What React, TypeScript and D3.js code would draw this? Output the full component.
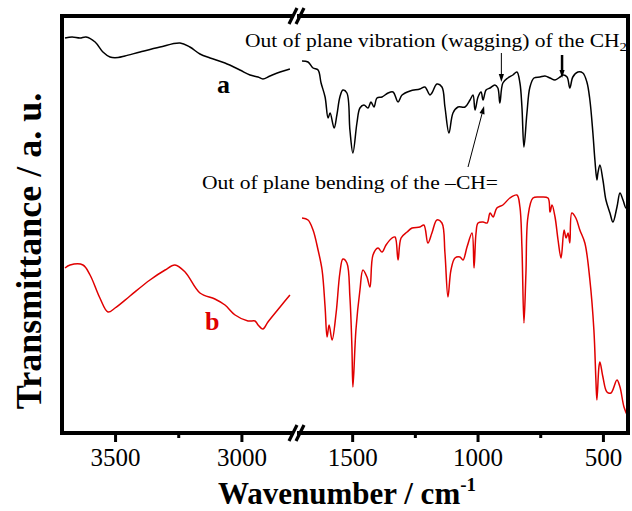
import React, { useEffect, useRef } from 'react';
import * as d3 from 'd3';

// wavenumber (cm-1), transmittance (a.u.)
const aLeft: [number, number][] = [
  [3698, 39.5], [3670, 39.6], [3639, 39.5], [3615, 39.6], [3579, 39.1], [3548, 38.1],
  [3520, 37.6], [3488, 37.55], [3461, 37.7], [3401, 38.1], [3322, 38.6], [3243, 39.0],
  [3204, 38.6], [3164, 37.9], [3124, 37.5], [3065, 37.0], [3006, 36.3], [2966, 35.8],
  [2934, 35.6], [2915, 35.4], [2887, 35.7], [2847, 36.1], [2808, 36.4]
];
const aRight: [number, number][] = [
  [1700, 37.2], [1676, 37.1], [1656, 36.5], [1636, 36.3], [1624, 35.0], [1608, 33.6],
  [1596, 31.5], [1588, 32.0], [1572, 30.5], [1561, 31.8], [1549, 33.6], [1537, 34.3],
  [1521, 34.0], [1509, 30.3], [1497, 28.0], [1481, 31.0], [1469, 32.5], [1453, 32.8],
  [1437, 32.5], [1425, 33.1], [1413, 32.6], [1401, 33.5], [1381, 33.6], [1357, 34.0],
  [1337, 34.1], [1317, 33.1], [1301, 33.8], [1269, 34.2], [1230, 34.4], [1210, 34.6],
  [1190, 33.8], [1182, 34.0], [1162, 34.9], [1142, 34.6], [1130, 32.6], [1114, 30.0],
  [1098, 32.0], [1078, 32.6], [1050, 32.6], [1030, 33.3], [1018, 33.8], [1010, 32.3],
  [998, 33.6], [986, 34.1], [978, 33.3], [966, 34.3], [950, 34.5], [931, 34.8],
  [919, 34.5], [911, 33.0], [899, 35.0], [879, 35.5], [859, 35.8], [843, 36.1],
  [831, 35.0], [823, 32.6], [815, 28.6], [803, 32.0], [791, 34.6], [775, 35.5],
  [751, 35.6], [731, 35.7], [711, 35.5], [691, 35.3], [671, 35.6], [659, 35.8],
  [643, 35.6], [632, 34.5], [620, 35.6], [600, 36.1], [580, 36.0], [564, 35.1],
  [552, 33.3], [540, 30.0], [532, 27.3], [524, 25.3], [520, 26.0], [512, 26.8],
  [500, 25.3], [488, 23.3], [472, 22.0], [460, 21.1], [444, 22.6], [432, 24.0],
  [420, 23.3], [408, 22.5], [400, 23.0]
];
const bLeft: [number, number][] = [
  [3698, 16.5], [3678, 16.8], [3627, 16.8], [3599, 15.8], [3560, 13.5], [3528, 12.1],
  [3500, 12.5], [3441, 13.7], [3362, 15.3], [3302, 16.3], [3263, 16.8], [3223, 16.1],
  [3164, 14.0], [3105, 13.4], [3065, 12.8], [3025, 11.8], [2974, 11.2], [2946, 11.2],
  [2934, 10.8], [2915, 10.4], [2895, 11.1], [2847, 12.6], [2808, 13.8]
];
const bRight: [number, number][] = [
  [1700, 21.5], [1676, 21.3], [1656, 20.3], [1636, 18.3], [1620, 16.3], [1608, 12.6],
  [1600, 9.6], [1592, 10.8], [1580, 9.3], [1564, 12.0], [1549, 16.0], [1537, 17.4],
  [1521, 17.0], [1509, 13.6], [1501, 8.6], [1497, 4.6], [1485, 10.3], [1469, 14.3],
  [1457, 16.3], [1441, 15.6], [1429, 14.6], [1417, 17.8], [1397, 18.5], [1381, 18.1],
  [1365, 18.8], [1341, 19.5], [1329, 19.6], [1317, 17.3], [1305, 19.5], [1281, 20.1],
  [1261, 20.5], [1230, 20.6], [1214, 20.8], [1198, 19.0], [1182, 20.0], [1162, 21.3],
  [1142, 21.0], [1130, 18.0], [1118, 13.6], [1106, 16.3], [1090, 17.5], [1070, 17.6],
  [1058, 17.3], [1042, 18.6], [1022, 20.0], [1014, 16.5], [1006, 20.0], [998, 21.0],
  [978, 21.1], [962, 21.0], [950, 22.0], [938, 21.6], [923, 22.5], [899, 22.8],
  [871, 23.5], [843, 23.8], [831, 22.6], [823, 18.6], [815, 11.0], [807, 16.0],
  [799, 21.6], [779, 23.5], [751, 23.6], [719, 23.5], [711, 22.1], [703, 22.8],
  [691, 21.6], [679, 19.3], [667, 17.5], [655, 20.3], [647, 19.5], [639, 20.0],
  [632, 19.0], [624, 22.0], [608, 21.5], [592, 20.3], [572, 19.0], [552, 15.3],
  [536, 10.3], [528, 5.3], [524, 3.3], [516, 6.6], [512, 7.1], [500, 5.6],
  [484, 4.1], [468, 4.0], [444, 5.3], [432, 4.6], [416, 2.6], [400, 1.6]
];

const ticksLeft = [3500, 3000];
const minorLeft = [3250];
const ticksRight = [1500, 1000, 500];
const minorRight = [1250, 750];

const serif = '"Times New Roman", "Liberation Serif", serif';

export default function App() {
  const ref = useRef<SVGSVGElement>(null);

  useEffect(() => {
    const svg = d3.select(ref.current);
    svg.selectAll('*').remove();

    const W = 632, H = 511;
    const margin = { top: 16, right: 4, bottom: 78, left: 62 };
    const x0 = margin.left, x1 = W - margin.right;
    const y0 = margin.top, y1 = H - margin.bottom;
    const xBreak = 297;

    const xl = d3.scaleLinear().domain([3710, 2780]).range([x0, xBreak]);
    const xr = d3.scaleLinear().domain([1720, 400]).range([xBreak, x1]);
    const y = d3.scaleLinear().domain([0, 41.7]).range([y1, y0]);

    const lineL = d3.line<[number, number]>().x(d => xl(d[0])).y(d => y(d[1]))
      .curve(d3.curveCatmullRom.alpha(0.5));
    const lineR = d3.line<[number, number]>().x(d => xr(d[0])).y(d => y(d[1]))
      .curve(d3.curveCatmullRom.alpha(0.5));

    const curves = [
      { d: aLeft, l: lineL, c: '#000' },
      { d: aRight, l: lineR, c: '#000' },
      { d: bLeft, l: lineL, c: '#e00000' },
      { d: bRight, l: lineR, c: '#e00000' }
    ];
    curves.forEach(k => {
      svg.append('path').datum(k.d)
        .attr('fill', 'none').attr('stroke', k.c).attr('stroke-width', 1.5)
        .attr('stroke-linejoin', 'round')
        .attr('d', k.l);
    });

    // axes ticks + labels
    const addAxis = (scale, ticks, size, labels) => {
      const g = svg.append('g').attr('transform', `translate(0,${y1})`)
        .call(d3.axisBottom(scale).tickValues(ticks).tickSize(size).tickPadding(6)
          .tickFormat(d3.format('d')));
      g.select('.domain').remove();
      g.selectAll('line').attr('stroke', '#000').attr('stroke-width', 3);
      if (labels) {
        g.selectAll('text').attr('font-family', serif).attr('font-size', 25).attr('fill', '#000');
      } else {
        g.selectAll('text').remove();
      }
    };
    addAxis(xl, ticksLeft, 9, true);
    addAxis(xl, minorLeft, 5, false);
    addAxis(xr, ticksRight, 9, true);
    addAxis(xr, minorRight, 5, false);

    // frame with break
    const fw = 4;
    const frame = svg.append('g').attr('stroke', '#000').attr('stroke-width', fw).attr('stroke-linecap', 'square');
    frame.append('line').attr('x1', x0).attr('x2', x0).attr('y1', y0).attr('y2', y1);
    frame.append('line').attr('x1', x1).attr('x2', x1).attr('y1', y0).attr('y2', y1);
    [y0, y1].forEach(yy => {
      frame.append('line').attr('x1', x0).attr('x2', xBreak - 5).attr('y1', yy).attr('y2', yy);
      frame.append('line').attr('x1', xBreak + 2).attr('x2', x1).attr('y1', yy).attr('y2', yy);
      [-4, 3].forEach(off => {
        svg.append('line')
          .attr('x1', xBreak + off - 4).attr('y1', yy + 8)
          .attr('x2', xBreak + off + 4).attr('y2', yy - 8)
          .attr('stroke', '#000').attr('stroke-width', 3.2);
      });
    });

    // series labels
    svg.append('text').attr('x', xl(3097)).attr('y', y(34.0))
      .attr('font-family', serif).attr('font-weight', 'bold').attr('font-size', 26)
      .attr('fill', '#000').text('a');
    svg.append('text').attr('x', xl(3144)).attr('y', y(10.3))
      .attr('font-family', serif).attr('font-weight', 'bold').attr('font-size', 26)
      .attr('fill', '#e00000').text('b');

    // annotations
    const t1 = svg.append('text').attr('x', 245).attr('y', 47)
      .attr('font-family', serif).attr('font-size', 19).attr('fill', '#000')
      .attr('textLength', 382).attr('lengthAdjust', 'spacingAndGlyphs');
    t1.append('tspan').text('Out of plane vibration (wagging) of the CH');
    t1.append('tspan').attr('font-size', 13).attr('dy', 4).text('2');

    svg.append('text').attr('x', 202).attr('y', 189)
      .attr('font-family', serif).attr('font-size', 19).attr('fill', '#000')
      .attr('textLength', 296).attr('lengthAdjust', 'spacingAndGlyphs')
      .text('Out of plane bending of the \u2013CH=');

    const arrow = (xa, ya, xb, yb, w) => {
      const dx = xb - xa, dy = yb - ya;
      const len = Math.sqrt(dx * dx + dy * dy);
      const ux = dx / len, uy = dy / len;
      const hl = 8, hw = 2.6;
      const bx = xb - ux * hl, by = yb - uy * hl;
      svg.append('line').attr('x1', xa).attr('y1', ya).attr('x2', bx).attr('y2', by)
        .attr('stroke', '#000').attr('stroke-width', w);
      svg.append('path')
        .attr('d', `M${xb},${yb}L${bx - uy * hw},${by + ux * hw}L${bx + uy * hw},${by - ux * hw}Z`)
        .attr('fill', '#000');
    };
    arrow(xr(905), y(38.0), xr(905), y(35.1), 1);
    arrow(xr(663), y(37.8), xr(663), y(35.5), 2.5);
    arrow(xr(1038), y(26.6), xr(974), y(32.7), 1);

    // axis titles
    const xt = svg.append('text').attr('x', 347).attr('y', 504).attr('text-anchor', 'middle')
      .attr('font-family', serif).attr('font-weight', 'bold').attr('font-size', 31).attr('fill', '#000');
    xt.append('tspan').text('Wavenumber / cm');
    xt.append('tspan').attr('font-size', 19).attr('dy', -13).text('-1');

    svg.append('text').attr('transform', 'translate(41,251) rotate(-90)')
      .attr('text-anchor', 'middle')
      .attr('font-family', serif).attr('font-weight', 'bold').attr('font-size', 36).attr('fill', '#000')
      .text('Transmittance / a. u.');
  }, []);

  return (
    <svg ref={ref} width={632} height={511}
      style={{ position: 'absolute', left: 0, top: 0, background: '#fff' }} />
  );
}
